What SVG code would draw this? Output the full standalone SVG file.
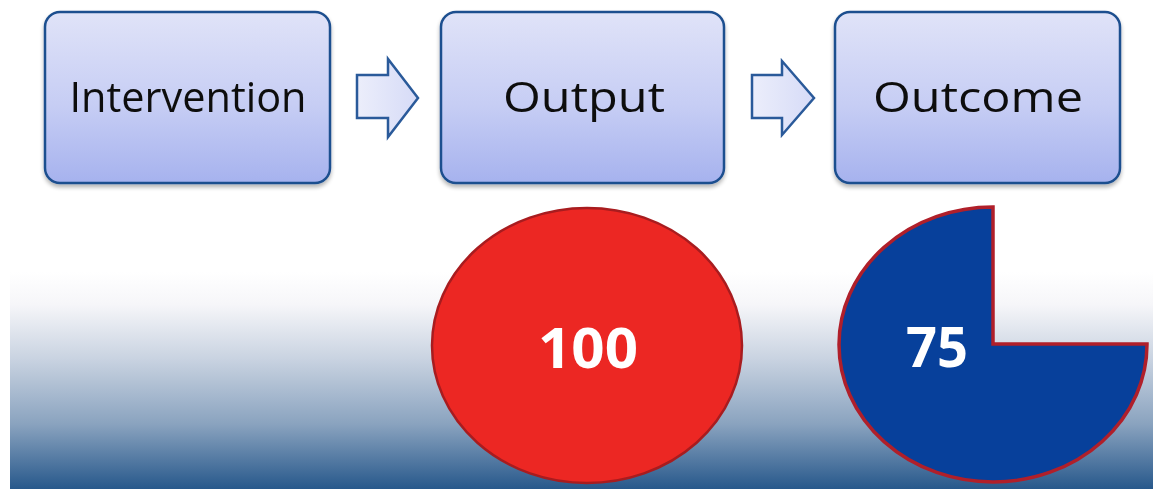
<svg xmlns="http://www.w3.org/2000/svg" width="1153" height="489" viewBox="0 0 1153 489">
<defs>
<linearGradient id="bg" x1="0" y1="0" x2="0" y2="1">
<stop offset="0" stop-color="#ffffff"/>
<stop offset="0.15" stop-color="#f6f6f9"/>
<stop offset="0.4" stop-color="#c9d3e1"/>
<stop offset="0.7" stop-color="#8aa3bf"/>
<stop offset="1" stop-color="#27588b"/>
</linearGradient>
<linearGradient id="box" x1="0" y1="0" x2="0" y2="1">
<stop offset="0" stop-color="#e0e3f8"/>
<stop offset="0.55" stop-color="#c6cdf4"/>
<stop offset="1" stop-color="#a6b2ee"/>
</linearGradient>
<linearGradient id="arr" x1="0" y1="0" x2="1" y2="0">
<stop offset="0" stop-color="#eceefb"/>
<stop offset="1" stop-color="#d6dbf7"/>
</linearGradient>
<filter id="sh" x="-10%" y="-10%" width="120%" height="130%">
<feGaussianBlur in="SourceAlpha" stdDeviation="2"/>
<feOffset dx="0" dy="3"/>
<feComponentTransfer><feFuncA type="linear" slope="0.3"/></feComponentTransfer>
<feMerge><feMergeNode/><feMergeNode in="SourceGraphic"/></feMerge>
</filter>
</defs>
<style>
.box{fill:url(#box);stroke:#1f4f8f;stroke-width:2.5}
.lbl{font-family:"Open Sans","Liberation Sans",sans-serif;font-size:42px;fill:#111;text-anchor:middle}
.arrow{fill:url(#arr);stroke:#2a5a9a;stroke-width:2.5;stroke-linejoin:miter}
.num{font-family:"Open Sans","Liberation Sans",sans-serif;font-weight:bold;font-size:56px;fill:#ffffff;text-anchor:middle}
</style>
<rect x="0" y="0" width="1153" height="489" fill="#ffffff"/>
<rect id="background" x="10" y="272" width="1143" height="217" fill="url(#bg)"/>
<g id="connectors">
<path class="arrow" d="M357,75 L388,75 L388,59 L418,98 L388,137 L388,118 L357,118 Z"/>
<path class="arrow" d="M752,75 L782,75 L782,61 L814,98 L782,135 L782,118 L752,118 Z"/>
</g>
<g id="intervention" filter="url(#sh)">
<rect class="box" x="45" y="12" width="285" height="171" rx="15"/>
<text class="lbl" x="188" y="112" textLength="237" lengthAdjust="spacingAndGlyphs">Intervention</text>
</g>
<g id="output" filter="url(#sh)">
<rect class="box" x="441" y="12" width="283" height="171" rx="15"/>
<text class="lbl" x="584" y="112" textLength="162" lengthAdjust="spacingAndGlyphs">Output</text>
</g>
<g id="outcome" filter="url(#sh)">
<rect class="box" x="835" y="12" width="285" height="171" rx="15"/>
<text class="lbl" x="978" y="112" textLength="210" lengthAdjust="spacingAndGlyphs">Outcome</text>
</g>
<g id="output-value">
<ellipse cx="587" cy="345.5" rx="155" ry="137.5" fill="#ec2723" stroke="#a81c1f" stroke-width="2.5"/>
<text class="num" x="588" y="368" textLength="100" lengthAdjust="spacingAndGlyphs">100</text>
</g>
<g id="outcome-value">
<path d="M993,344 L993,207 A154,137.5 0 1 0 1147,344 Z" fill="#07409b" stroke="#b01f2a" stroke-width="3.5" stroke-linejoin="miter"/>
<text class="num" x="937" y="367" textLength="62" lengthAdjust="spacingAndGlyphs">75</text>
</g>
</svg>
